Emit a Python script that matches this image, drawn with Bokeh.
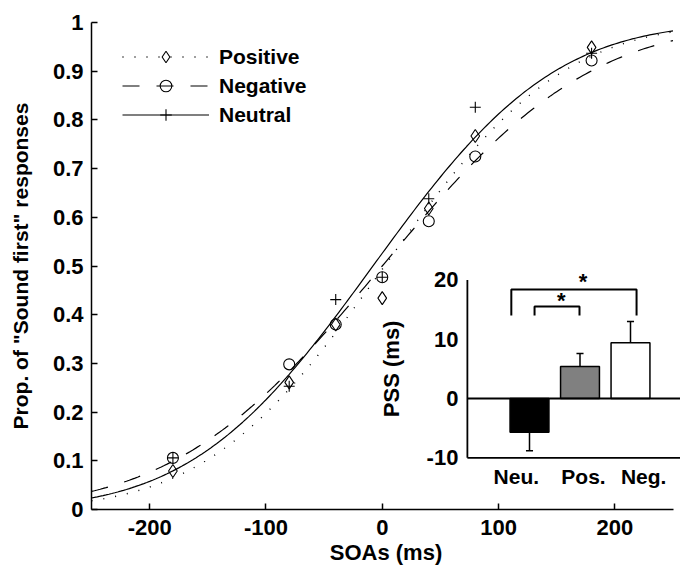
import math
from bokeh.plotting import figure
from bokeh.models import Range1d, FixedTicker, Legend, LegendItem, Label
from bokeh.core.properties import value
from bokeh.embed import file_html
from bokeh.resources import INLINE

# ---------------- data ----------------
soa = [-180, -80, -40, 0, 40, 80, 180]
positive = [0.079, 0.261, 0.380, 0.434, 0.618, 0.767, 0.949]
negative = [0.106, 0.298, 0.380, 0.477, 0.592, 0.725, 0.922]
neutral = [0.106, 0.253, 0.431, 0.477, 0.638, 0.826, 0.937]

# fitted cumulative-Gaussian psychometric curves: mean and SD (ms)
fit_mean = {"Positive": 2.0, "Negative": 0.0, "Neutral": -8.0}
fit_sd = {"Positive": 120.0, "Negative": 140.0, "Neutral": 122.0}

x_ticks = [-200, -100, 0, 100, 200]
x_tick_labels = ["-200", "-100", "0", "100", "200"]
y_ticks = [0, 0.1, 0.2, 0.3, 0.4, 0.5, 0.6, 0.7, 0.8, 0.9, 1]
y_tick_labels = ["0", "0.1", "0.2", "0.3", "0.4", "0.5", "0.6", "0.7", "0.8", "0.9", "1"]

# inset: point of subjective simultaneity
pss_cats = ["Neu.", "Pos.", "Neg."]
pss_vals = [-5.7, 5.4, 9.4]
pss_err = [3.1, 2.2, 3.6]
pss_colors = ["black", "#808080", "white"]
pss_label_x = [0.74, 2.07, 3.26]
inset_ticks = [-10, 0, 10, 20]
inset_tick_labels = ["-10", "0", "10", "20"]
# significance brackets: left end, right end, top, leg bottom, star position
br_x0 = [0.64, 1.10]
br_x1 = [3.12, 1.99]
br_top = [18.4, 15.5]
br_leg = [14.0, 14.0]
star_x = [2.06, 1.63]
star_y = [20.2, 17.1]

FONT = "Liberation Sans"

# ---------------- main figure ----------------
FW, FH = 589, 487
PX_PER_MS = 1.163
p = figure(frame_width=FW, frame_height=FH,
           x_range=Range1d(-250, -250 + FW / PX_PER_MS), y_range=Range1d(0, 1),
           output_backend="svg", toolbar_location=None,
           min_border_left=91, min_border_top=22, min_border_right=0,
           min_border_bottom=5)
p.grid.visible = False
p.outline_line_color = None
p.background_fill_color = "white"
p.border_fill_color = "white"

for ax in (p.xaxis[0], p.yaxis[0]):
    ax.axis_line_width = 1.5
    ax.major_tick_line_width = 1.5
    ax.major_tick_in = 6
    ax.major_tick_out = 0
    ax.minor_tick_in = 0
    ax.minor_tick_out = 0
    ax.major_label_text_font = FONT
    ax.major_label_text_font_style = "bold"
    ax.major_label_text_font_size = "22px"
    ax.major_label_text_color = "black"
    ax.axis_label_text_font = FONT
    ax.axis_label_text_font_style = "bold"
    ax.axis_label_text_color = "black"

p.xaxis.ticker = FixedTicker(ticks=x_ticks)
p.xaxis.major_label_overrides = dict(zip(x_ticks, x_tick_labels))
p.xaxis.bounds = (-250, 250)
p.xaxis.axis_label = "SOAs (ms)"
p.xaxis.axis_label_text_font_size = "22px"
p.xaxis.major_label_standoff = 10
p.xaxis.axis_label_standoff = 2

p.yaxis.ticker = FixedTicker(ticks=y_ticks)
p.yaxis.major_label_overrides = dict(zip(y_ticks, y_tick_labels))
p.yaxis.axis_label = 'Prop. of "Sound first" responses'
p.yaxis.axis_label_text_font_size = "21px"
p.yaxis.major_label_standoff = 8
p.yaxis.axis_label_standoff = 18

# curves
xs = [-250 + i * 2.5 for i in range(201)]


def cum_gauss(x, m, s):
    return 0.5 * (1.0 + math.erf((x - m) / (s * math.sqrt(2.0))))


styles = {"Positive": dict(line_dash="1 11", line_width=1.4),
          "Negative": dict(line_dash="17 17", line_width=1.2),
          "Neutral": dict(line_width=1.2)}
markers = {"Positive": ("diamond", 13), "Negative": ("circle", 11), "Neutral": ("cross", 11)}
series = {"Positive": positive, "Negative": negative, "Neutral": neutral}

items = []
for name in ["Positive", "Negative", "Neutral"]:
    ys = [cum_gauss(x, fit_mean[name], fit_sd[name]) for x in xs]
    lr = p.line(xs, ys, line_color="black", **styles[name])
    mk, sz = markers[name]
    sr = p.scatter(soa, series[name], marker=mk, size=sz, fill_color=None,
                   line_color="black", line_width=1.1)
    items.append(LegendItem(label=name, renderers=[lr, sr]))

legend = Legend(items=items, location=(31, FH - 20 - 87),
                glyph_width=87, glyph_height=29, label_height=29,
                spacing=0, padding=0, margin=0, label_standoff=10,
                border_line_color=None, background_fill_alpha=0,
                label_text_font=FONT, label_text_font_style="bold",
                label_text_font_size="21px", label_text_color="black")
p.add_layout(legend)

# ---------------- inset (drawn on its own ranges) ----------------
CAT1_PX, CAT_UNIT = 438.0, 50.5      # frame px of first category, px per category
ZERO_PX, Y_UNIT = 376.0, 5.93        # frame px (from top) of PSS = 0, px per ms
ix0 = 1 - CAT1_PX / CAT_UNIT
iy0 = -(FH - ZERO_PX) / Y_UNIT
p.extra_x_ranges = {"ix": Range1d(ix0, ix0 + FW / CAT_UNIT)}
p.extra_y_ranges = {"iy": Range1d(iy0, iy0 + FH / Y_UNIT)}
IX_L, IX_R = -0.23, 4.2
IY_B, IY_T = inset_ticks[0], inset_ticks[-1]
kw = dict(x_range_name="ix", y_range_name="iy")

cat_x = [1, 2, 3]
p.vbar(x=cat_x, top=pss_vals, bottom=0, width=0.77, fill_color=pss_colors,
       line_color="black", line_width=1.5, **kw)
err_end = [v - e if v < 0 else v + e for v, e in zip(pss_vals, pss_err)]
p.segment(x0=cat_x, y0=pss_vals, x1=cat_x, y1=err_end, line_color="black",
          line_width=1.5, **kw)
p.segment(x0=[c - 0.07 for c in cat_x], y0=err_end, x1=[c + 0.07 for c in cat_x],
          y1=err_end, line_color="black", line_width=1.5, **kw)
# axes of the inset
p.segment(x0=[IX_L, IX_L, IX_L], y0=[IY_B, IY_B, 0], x1=[IX_L, IX_R, IX_R],
          y1=[IY_T, IY_B, 0], line_color="black", line_width=1.8, **kw)
tfont = dict(text_font=value(FONT), text_font_style="bold", text_color="black")
p.text(x=[IX_L] * len(inset_ticks), y=inset_ticks, text=inset_tick_labels,
       text_align="right", text_baseline="middle", x_offset=-9,
       text_font_size=value("22px"), **tfont, **kw)
p.text(x=pss_label_x, y=[IY_B] * 3, text=pss_cats, text_align="center",
       text_baseline="top", y_offset=7, text_font_size=value("21px"), **tfont, **kw)
p.add_layout(Label(x=IX_L, y=(IY_B + IY_T) / 2, x_offset=-76, text="PSS (ms)",
                   angle=math.pi / 2, text_align="center", text_baseline="middle",
                   text_font=FONT, text_font_style="bold", text_font_size="22px",
                   text_color="black", **kw))
# significance brackets
p.multi_line(xs=[[a, a, b, b] for a, b in zip(br_x0, br_x1)],
             ys=[[l, t, t, l] for t, l in zip(br_top, br_leg)],
             line_color="black", line_width=2, **kw)
p.text(x=star_x, y=star_y, text=["*"] * len(star_x), text_align="center",
       text_baseline="alphabetic", y_offset=3, text_font_size=value("22px"),
       **tfont, **kw)

open("out.html", "w").write(file_html(p, INLINE))
